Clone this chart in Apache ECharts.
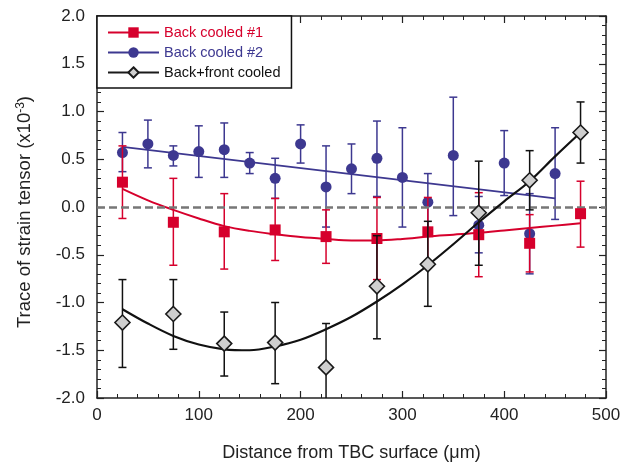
<!DOCTYPE html>
<html><head><meta charset="utf-8">
<script src="https://cdn.jsdelivr.net/npm/echarts@6/dist/echarts.min.js"></script>
<style>html,body{margin:0;padding:0;background:#fff}#c{width:630px;height:468px}</style>
</head><body><div id="c"></div>
<script>
// ---- data ----
const xTicks = [0, 100, 200, 300, 400, 500];
const yTicks = [-2.0, -1.5, -1.0, -0.5, 0.0, 0.5, 1.0, 1.5, 2.0];

const redX    = [25, 75, 125, 175, 225, 275, 325, 375, 425, 475];
const redY    = [0.26, -0.16, -0.26, -0.24, -0.31, -0.33, -0.26, -0.29, -0.38, -0.07];
const redHigh = [0.64, 0.30, 0.14, 0.09, -0.03, 0.10, 0.10, 0.15, -0.08, 0.27];
const redLow  = [-0.12, -0.61, -0.65, -0.56, -0.59, -0.76, -0.62, -0.73, -0.68, -0.42];
const redFitX = [25, 50, 75, 100, 125, 150, 175, 200, 225, 250, 275, 300, 325, 350, 375, 400, 425, 450, 475];
const redFitY = [0.19, 0.07, -0.03, -0.12, -0.20, -0.25, -0.285, -0.315, -0.335, -0.35, -0.35, -0.335, -0.31, -0.29, -0.27, -0.245, -0.22, -0.195, -0.17];

const blueX    = [25, 50, 75, 100, 125, 150, 175, 200, 225, 250, 275, 300, 325, 350, 375, 400, 425, 450];
const blueY    = [0.57, 0.66, 0.54, 0.58, 0.60, 0.46, 0.30, 0.66, 0.21, 0.40, 0.51, 0.31, 0.05, 0.54, -0.19, 0.46, -0.28, 0.35];
const blueHigh = [0.78, 0.91, 0.64, 0.85, 0.88, 0.57, 0.51, 0.86, 0.64, 0.66, 0.90, 0.83, 0.35, 1.15, 0.11, 0.80, 0.14, 0.83];
const blueLow  = [0.37, 0.41, 0.43, 0.31, 0.31, 0.35, 0.09, 0.46, -0.21, 0.14, 0.11, -0.21, -0.25, -0.09, -0.48, 0.12, -0.70, -0.13];
const blueFitX = [25, 450];
const blueFitY = [0.63, 0.09];

const blackX    = [25, 75, 125, 175, 225, 275, 325, 375, 425, 475];
const blackY    = [-1.21, -1.12, -1.43, -1.42, -1.68, -0.83, -0.60, -0.06, 0.28, 0.78];
const blackHigh = [-0.76, -0.76, -1.10, -1.00, -1.22, -0.30, -0.15, 0.48, 0.59, 1.10];
const blackLow  = [-1.68, -1.49, -1.77, -1.85, -2.30, -1.38, -1.04, -0.61, -0.03, 0.46];
const blackFitX = [25, 50, 75, 100, 125, 150, 175, 200, 225, 250, 275, 300, 325, 350, 375, 400, 425, 450, 475];
const blackFitY = [-1.07, -1.22, -1.35, -1.44, -1.49, -1.50, -1.46, -1.39, -1.28, -1.15, -0.99, -0.81, -0.61, -0.39, -0.16, 0.06, 0.27, 0.53, 0.78];

const names = ['Back cooled #1', 'Back cooled #2', 'Back+front cooled'];

// ---- styles ----
const RED = '#d6002c', BLUE = '#3d3890', BLACK = '#111111';
const FONT = 'Liberation Sans, Arial, sans-serif';
const AX = '#222';

function pairs(xs, ys) { return xs.map((x, i) => [x, ys[i]]); }

function errSeries(xs, lows, highs, color, z) {
  return {
    type: 'custom', clip: true, z: z, silent: true,
    data: xs.map((x, i) => [x, lows[i], highs[i]]),
    encode: { x: 0, y: [1, 2] },
    renderItem: function (params, api) {
      const x = api.value(0);
      const lo = api.coord([x, api.value(1)]);
      const hi = api.coord([x, api.value(2)]);
      const hw = 4;
      const st = { stroke: color, lineWidth: 1.5 };
      return {
        type: 'group',
        children: [
          { type: 'line', shape: { x1: lo[0], y1: lo[1], x2: hi[0], y2: hi[1] }, style: st },
          { type: 'line', shape: { x1: hi[0] - hw, y1: hi[1], x2: hi[0] + hw, y2: hi[1] }, style: st },
          { type: 'line', shape: { x1: lo[0] - hw, y1: lo[1], x2: lo[0] + hw, y2: lo[1] }, style: st }
        ]
      };
    }
  };
}

function fitSeries(xs, ys, color, w, z, extra) {
  return Object.assign({
    type: 'line', data: pairs(xs, ys), smooth: 0.35, symbol: 'none', silent: true, z: z,
    lineStyle: { color: color, width: w }
  }, extra || {});
}

function ptSeries(name, xs, ys, symbol, size, fill, border, bw, z) {
  return {
    type: 'line', name: name, data: pairs(xs, ys), symbol: symbol, symbolSize: size, z: z,
    showSymbol: true, silent: true,
    lineStyle: { width: 0, color: border === 'none' ? fill : border },
    itemStyle: { color: fill, borderColor: border === 'none' ? fill : border, borderWidth: bw }
  };
}

const axisCommon = {
  axisLine: { show: true, onZero: false, lineStyle: { color: AX, width: 1.5 } },
  axisTick: { show: true, inside: true, length: 7, lineStyle: { color: AX, width: 1.2 } },
  minorTick: { show: true, splitNumber: 5, length: 4, lineStyle: { color: AX, width: 1 } },
  splitLine: { show: false }
};

const option = {
  animation: false,
  backgroundColor: '#fff',
  grid: { left: 97, right: 24, top: 16, bottom: 70 },
  xAxis: [
    Object.assign({
      type: 'value', min: xTicks[0], max: xTicks[xTicks.length - 1], interval: 100, position: 'bottom',
      axisLabel: { fontSize: 17, color: AX, fontFamily: FONT, margin: 9 },
      name: 'Distance from TBC surface (μm)', nameLocation: 'middle', nameGap: 46,
      nameTextStyle: { fontSize: 18, color: AX, fontFamily: FONT }
    }, axisCommon),
    Object.assign({
      type: 'value', min: xTicks[0], max: xTicks[xTicks.length - 1], interval: 100, position: 'top',
      axisLabel: { show: false }
    }, axisCommon)
  ],
  yAxis: [
    Object.assign({
      type: 'value', min: yTicks[0], max: yTicks[yTicks.length - 1], interval: 0.5, position: 'left',
      axisLabel: { fontSize: 17, color: AX, fontFamily: FONT, margin: 12, formatter: v => v.toFixed(1) },
      name: 'Trace of strain tensor (x10{sup|-3})', nameLocation: 'middle', nameGap: 63,
      nameTextStyle: { fontSize: 18.5, color: AX, fontFamily: FONT, padding: [0, 10, 0, 0],
        rich: { sup: { fontSize: 12, fontFamily: FONT, color: AX, verticalAlign: 'top', padding: [0, 0, 6, 0] } } }
    }, axisCommon),
    Object.assign({
      type: 'value', min: yTicks[0], max: yTicks[yTicks.length - 1], interval: 0.5, position: 'right',
      axisLabel: { show: false }
    }, axisCommon)
  ],
  legend: {
    orient: 'vertical', left: 97, top: 16,
    data: [
      { name: names[0], textStyle: { color: RED } },
      { name: names[1], textStyle: { color: BLUE } },
      { name: names[2], textStyle: { color: BLACK } }
    ],
    itemWidth: 51, itemHeight: 13, itemGap: 5,
    padding: [9, 11, 8, 10],
    backgroundColor: '#fff', borderColor: '#111', borderWidth: 1.5, borderRadius: 0,
    textStyle: { fontSize: 14.5, fontFamily: FONT, lineHeight: 14.5 },
    lineStyle: { width: 2 },
    selectedMode: false, z: 10
  },
  series: [
    errSeries(blueX, blueLow, blueHigh, BLUE, 2),
    fitSeries(blueFitX, blueFitY, BLUE, 1.8, 2, {
      smooth: false,
      markLine: {
        silent: true, symbol: ['none', 'none'], label: { show: false },
        lineStyle: { type: [8, 4], color: '#777', width: 2.5 },
        data: [{ yAxis: 0 }]
      }
    }),
    ptSeries(names[1], blueX, blueY, 'circle', 11, BLUE, 'none', 0, 3),
    errSeries(redX, redLow, redHigh, RED, 4),
    fitSeries(redFitX, redFitY, RED, 2, 4),
    ptSeries(names[0], redX, redY, 'rect', 11, RED, 'none', 0, 5),
    errSeries(blackX, blackLow, blackHigh, BLACK, 6),
    fitSeries(blackFitX, blackFitY, BLACK, 2.2, 6),
    ptSeries(names[2], blackX, blackY, 'diamond', 15, '#cfcfcf', '#1a1a1a', 1.6, 7)
  ]
};

const chart = echarts.init(document.getElementById('c'), null, { renderer: 'canvas' });
chart.setOption(option);
</script>
</body></html>
